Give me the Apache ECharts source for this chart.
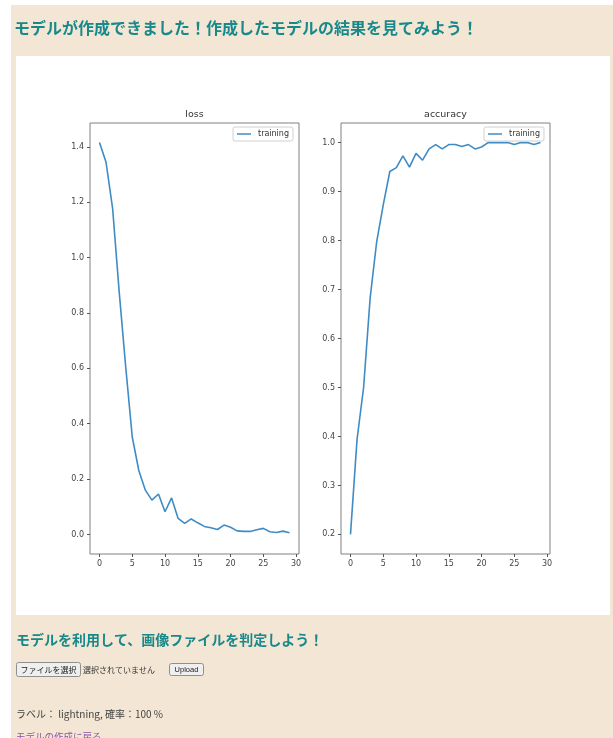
<!DOCTYPE html>
<html>
<head>
<meta charset="utf-8">
<script src="https://cdn.jsdelivr.net/npm/echarts@6/dist/echarts.min.js"></script>
<style>
html,body{margin:0;padding:0;background:#ffffff;}
#c{width:613px;height:738px;}
</style>
</head>
<body>
<div id="c"></div>
<script>
// ---- data ----
const epochs = [0,1,2,3,4,5,6,7,8,9,10,11,12,13,14,15,16,17,18,19,20,21,22,23,24,25,26,27,28,29];
const lossValues = [1.416,1.344,1.178,0.878,0.605,0.352,0.231,0.160,0.124,0.146,0.082,0.132,0.058,0.040,0.056,0.042,0.029,0.024,0.018,0.034,0.026,0.013,0.011,0.011,0.017,0.022,0.010,0.007,0.012,0.006];
const accValues = [0.200,0.394,0.500,0.683,0.798,0.873,0.941,0.949,0.973,0.950,0.978,0.964,0.987,0.996,0.987,0.996,0.996,0.992,0.996,0.987,0.991,1.000,1.000,1.000,1.000,0.996,1.000,1.000,0.996,1.000];
const xTicks = [0,5,10,15,20,25,30];
const lossTicks = [0.0,0.2,0.4,0.6,0.8,1.0,1.2,1.4];
const accTicks = [0.2,0.3,0.4,0.5,0.6,0.7,0.8,0.9,1.0];
const chartTitles = ['loss','accuracy'];
const seriesName = 'training';
const pageTitle = 'モデルが作成できました！作成したモデルの結果を見てみよう！';
const subTitle = 'モデルを利用して、画像ファイルを判定しよう！';
const fileButtonText = 'ファイルを選択';
const noFileText = '選択されていません';
const uploadText = 'Upload';
const resultText = 'ラベル： lightning, 確率：100 %';
const backLinkText = 'モデルの作成に戻る';

// ---- chart ----
const chart = echarts.init(document.getElementById('c'), null, {renderer:'canvas'});
const lineColor = '#3f8cc4';
const mplFont = 'DejaVu Sans';
const jpFont = '"Noto Sans CJK JP", "Noto Sans", sans-serif';
const teal = '#17898a';

function pairs(vals){ return epochs.map((e,i)=>[e, vals[i]]); }

function xAxisCfg(idx){
  return {
    type:'value', gridIndex:idx, min:-1.45, max:30.45, position:'bottom',
    axisLine:{show:false, onZero:false},
    axisTick:{show:true, inside:false, length:3, customValues:xTicks, lineStyle:{color:'#555', width:1}},
    axisLabel:{customValues:xTicks, margin:6, fontFamily:mplFont, fontSize:8, color:'#444'},
    splitLine:{show:false}
  };
}
function yAxisCfg(idx, min, max, ticks){
  return {
    type:'value', gridIndex:idx, min:min, max:max, position:'left',
    axisLine:{show:false, onZero:false},
    axisTick:{show:true, inside:false, length:3, customValues:ticks, lineStyle:{color:'#555', width:1}},
    axisLabel:{customValues:ticks, margin:6, fontFamily:mplFont, fontSize:8, color:'#444',
      formatter:(v)=>Number(v).toFixed(1)},
    splitLine:{show:false}
  };
}

const option = {
  backgroundColor:'#ffffff',
  animation:false,
  grid:[
    {left:90, top:123, width:209, height:431, show:true, backgroundColor:'#ffffff', borderColor:'#808080', borderWidth:1},
    {left:341, top:123, width:209, height:431, show:true, backgroundColor:'#ffffff', borderColor:'#808080', borderWidth:1}
  ],
  xAxis:[xAxisCfg(0), xAxisCfg(1)],
  yAxis:[yAxisCfg(0, -0.0706, 1.486, lossTicks), yAxisCfg(1, 0.16, 1.04, accTicks)],
  legend:[
    {left:233, top:127, data:[seriesName], icon:'rect', itemWidth:14, itemHeight:1.5, itemGap:4,
     padding:[3,4,3,4], borderColor:'#d0d0d0', borderWidth:1, borderRadius:2, backgroundColor:'#ffffff',
     textStyle:{fontFamily:mplFont, fontSize:8, color:'#333', padding:[0,0,0,2]}, selectedMode:false},
    {left:484, top:127, data:[seriesName], icon:'rect', itemWidth:14, itemHeight:1.5, itemGap:4,
     padding:[3,4,3,4], borderColor:'#d0d0d0', borderWidth:1, borderRadius:2, backgroundColor:'#ffffff',
     textStyle:{fontFamily:mplFont, fontSize:8, color:'#333', padding:[0,0,0,2]}, selectedMode:false}
  ],
  series:[
    {name:seriesName, type:'line', xAxisIndex:0, yAxisIndex:0, data:pairs(lossValues), showSymbol:false,
     lineStyle:{color:lineColor, width:1.6}, itemStyle:{color:lineColor}},
    {name:seriesName, type:'line', xAxisIndex:1, yAxisIndex:1, data:pairs(accValues), showSymbol:false,
     lineStyle:{color:lineColor, width:1.6}, itemStyle:{color:lineColor}}
  ],
  graphic:[
    {type:'rect', z:-20, silent:true, shape:{x:11, y:5, width:602, height:733}, style:{fill:'#f3e6d4'}},
    {type:'rect', z:-19, silent:true, shape:{x:16, y:56, width:594, height:559}, style:{fill:'#ffffff'}},
    {type:'text', x:14, y:28, style:{text:pageTitle, font:'bold 16px ' + jpFont, fill:teal, verticalAlign:'middle'}},
    {type:'text', x:194.5, y:115, style:{text:chartTitles[0], font:'9.5px "' + mplFont + '"', fill:'#333', align:'center', verticalAlign:'middle'}},
    {type:'text', x:445.5, y:115, style:{text:chartTitles[1], font:'9.5px "' + mplFont + '"', fill:'#333', align:'center', verticalAlign:'middle'}},
    {type:'text', x:16, y:640, style:{text:subTitle, font:'bold 14px ' + jpFont, fill:teal, verticalAlign:'middle'}},
    {type:'rect', shape:{x:16.5, y:662.5, width:64, height:14, r:2}, style:{fill:'#efefef', stroke:'#8f8f8f', lineWidth:1}},
    {type:'text', x:48.5, y:669.5, style:{text:fileButtonText, font:'8px ' + jpFont, fill:'#222', align:'center', verticalAlign:'middle'}},
    {type:'text', x:83, y:669.5, style:{text:noFileText, font:'8px ' + jpFont, fill:'#333', verticalAlign:'middle'}},
    {type:'rect', shape:{x:169.5, y:663.5, width:34, height:12, r:2}, style:{fill:'#efefef', stroke:'#8f8f8f', lineWidth:1}},
    {type:'text', x:186.5, y:669.5, style:{text:uploadText, font:'7.5px "Liberation Sans", sans-serif', fill:'#222', align:'center', verticalAlign:'middle'}},
    {type:'text', x:16, y:714, style:{text:resultText, font:'10px ' + jpFont, fill:'#444', verticalAlign:'middle'}},
    {type:'text', x:16, y:736, style:{text:backLinkText, font:'9.5px ' + jpFont, fill:'#8a58a6', verticalAlign:'middle'}}
  ]
};
chart.setOption(option);
</script>
</body>
</html>
